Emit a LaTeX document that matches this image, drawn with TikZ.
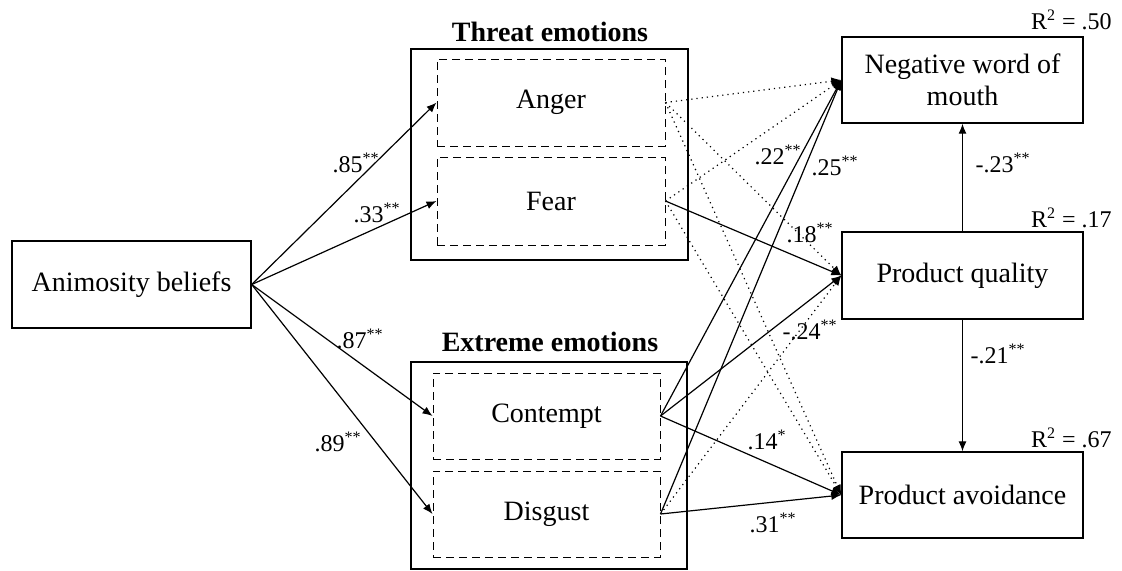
\documentclass[tikz,border=0pt]{standalone}
\usepackage{fontspec}
\setmainfont{Liberation Serif}
\usetikzlibrary{arrows.meta}
\begin{document}
\begin{tikzpicture}[x=0.5pt,y=-0.5pt,
 box/.style={draw, line width=0.7pt, inner sep=0pt, align=center, font=\fontsize{14}{16}\selectfont},
 inbox/.style={draw, dash pattern=on 4pt off 2.5pt, line width=0.5pt, inner sep=0pt, font=\fontsize{14}{16}\selectfont},
 arr/.style={-{Latex[length=5pt,width=4pt]}, line width=0.6pt},
 dotarr/.style={arr, dash pattern=on 0.6pt off 2pt},
 lab/.style={font=\fontsize{12}{14}\selectfont, inner sep=0pt},
 ttl/.style={font=\fontsize{14}{16}\selectfont\bfseries, inner sep=0pt}]
\useasboundingbox (0,0) rectangle (1122,570);

% left box
\node[box, minimum width=119.5pt, minimum height=43.5pt] (anim) at (131.5,284.5) {Animosity beliefs};

% threat group
\node[box, minimum width=138.5pt, minimum height=105.5pt] (threat) at (549.5,154.5) {};
\node[ttl] (threatT) at (550,32) {Threat emotions};
\node[inbox, minimum width=114pt, minimum height=43.5pt] (anger) at (551,102.5) {Anger};
\node[inbox, minimum width=114pt, minimum height=44pt] (fear) at (551,201) {Fear};

% extreme group
\node[box, minimum width=138pt, minimum height=103.5pt] (extreme) at (549,465.5) {};
\node[ttl] (extremeT) at (550,342) {Extreme emotions};
\node[inbox, minimum width=113.5pt, minimum height=43pt] (contempt) at (546.5,416) {Contempt};
\node[inbox, minimum width=113.5pt, minimum height=43pt] (disgust) at (546.5,514) {Disgust};

% outcomes
\node[box, minimum width=120.5pt, minimum height=43pt] (nwom) at (962.5,80) {Negative word of\\mouth};
\node[box, minimum width=120.5pt, minimum height=43.5pt] (pq) at (962.5,275.5) {Product quality};
\node[box, minimum width=120.5pt, minimum height=43pt] (pa) at (962.5,495) {Product avoidance};

\node[lab, anchor=east] (r1) at (1112,20) {R\textsuperscript{2} = .50};
\node[lab, anchor=east] (r2) at (1112,218) {R\textsuperscript{2} = .17};
\node[lab, anchor=east] (r3) at (1112,438) {R\textsuperscript{2} = .67};

% animosity arrows
\draw[arr] (anim.east) -- (anger.west);
\draw[arr] (anim.east) -- (fear.west);
\draw[arr] (anim.east) -- (contempt.west);
\draw[arr] (anim.east) -- (disgust.west);
\node[lab] at (356,163) {.85\textsuperscript{**}};
\node[lab] at (377,213) {.33\textsuperscript{**}};
\node[lab] at (360,339) {.87\textsuperscript{**}};
\node[lab] at (338,442) {.89\textsuperscript{**}};

% anger (all non-significant)
\draw[dotarr] (anger.east) -- (nwom.west);
\draw[dotarr] (anger.east) -- (pq.west);
\draw[dotarr] (anger.east) -- (pa.west);
% fear
\draw[dotarr] (fear.east) -- (nwom.west);
\draw[arr] (fear.east) -- (pq.west);
\draw[dotarr] (fear.east) -- (pa.west);
% contempt
\draw[arr] (contempt.east) -- (nwom.west);
\draw[arr] (contempt.east) -- (pq.west);
\draw[arr] (contempt.east) -- (pa.west);
% disgust
\draw[arr] (disgust.east) -- (nwom.west);
\draw[dotarr] (disgust.east) -- (pq.west);
\draw[arr] (disgust.east) -- (pa.west);

% outcome arrows
\draw[arr] (pq.north) -- (nwom.south);
\draw[arr] (pq.south) -- (pa.north);

% labels
\node[lab] at (778,155) {.22\textsuperscript{**}};
\node[lab] at (835,166) {.25\textsuperscript{**}};
\node[lab] at (810,233) {.18\textsuperscript{**}};
\node[lab] at (810,330) {-.24\textsuperscript{**}};
\node[lab] at (767,440) {.14\textsuperscript{*}};
\node[lab] at (773,523) {.31\textsuperscript{**}};
\node[lab] at (1003,163) {-.23\textsuperscript{**}};
\node[lab] at (998,354) {-.21\textsuperscript{**}};
\end{tikzpicture}
\end{document}
